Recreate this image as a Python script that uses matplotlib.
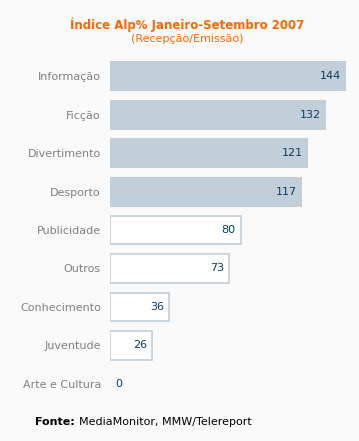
import matplotlib
matplotlib.use("Agg")
import matplotlib.pyplot as plt

categories = ["Informação", "Ficção", "Divertimento", "Desporto", "Publicidade",
              "Outros", "Conhecimento", "Juventude", "Arte e Cultura"]
values = [144, 132, 121, 117, 80, 73, 36, 26, 0]
filled = [True, True, True, True, False, False, False, False, False]

W, H = 359, 441
DPI = 100
fig = plt.figure(figsize=(W / DPI, H / DPI), dpi=DPI)
bg = "#fafafa"
fig.patch.set_facecolor(bg)

x0, x1 = 110, 346
ytop, ybot = 57, 403
ax = fig.add_axes([x0 / W, 1 - ybot / H, (x1 - x0) / W, (ybot - ytop) / H])
ax.set_facecolor(bg)
ax.set_xlim(0, 144)
ax.set_ylim(len(categories) - 0.5, -0.5)

barc = "#c2ced8"
valc = "#0a3d5e"
labc = "#808080"
for i, (v, f) in enumerate(zip(values, filled)):
    if v > 0:
        if f:
            ax.barh(i, v, height=0.78, color=barc, edgecolor="none")
        else:
            ax.barh(i, v - 0.6, left=0.3, height=0.74, color="white", edgecolor=barc, linewidth=1.2)
        ax.text(v - 3.2, i, str(v), ha="right", va="center", color=valc, fontsize=8)
    else:
        ax.text(v + 3.0, i, str(v), ha="left", va="center", color=valc, fontsize=8)

ax.set_yticks(range(len(categories)))
ax.set_yticklabels(categories, color=labc, fontsize=8)
ax.tick_params(axis="y", length=0, pad=6.5)
ax.set_xticks([])
for s in ax.spines.values():
    s.set_visible(False)

orange = "#ff6600"
fig.text(187 / W, 1 - 25 / H, "Índice Alp% Janeiro-Setembro 2007", ha="center", va="center",
         color=orange, fontsize=8.5, fontweight="bold")
fig.text(187 / W, 1 - 39.5 / H, "(Recepção/Emissão)", ha="center", va="center",
         color=orange, fontsize=8)

t = fig.text(35 / W, 1 - 422 / H, "Fonte:", ha="left", va="center", color="black",
             fontsize=8, fontweight="bold")
fig.canvas.draw()
bb = t.get_window_extent()
fig.text((bb.x1 + 4) / (W), 1 - 422 / H, "MediaMonitor, MMW/Telereport", ha="left",
         va="center", color="black", fontsize=8)

fig.savefig("out.png", dpi=DPI, facecolor=bg)
